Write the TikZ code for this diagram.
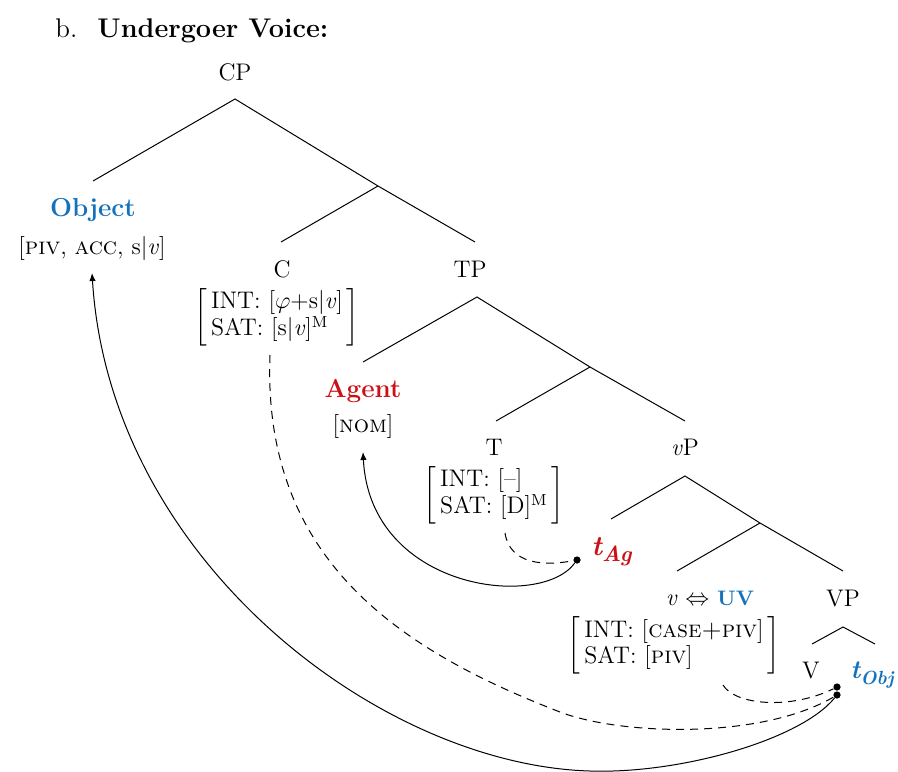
\documentclass[tikz,border=0pt]{standalone}
\usepackage{amsmath}
\usetikzlibrary{arrows.meta}
\definecolor{uvblue}{RGB}{20,114,189}
\definecolor{agred}{RGB}{204,16,22}
% two-row feature matrix in square brackets
\newcommand\featmat[2]{$\left[\begin{tabular}{@{\,}l@{\,}}#1\\#2\end{tabular}\right]$}
% trace symbol: bold italic t with a large lowered index
\newcommand\tracet[2][11]{t\raisebox{-3pt}{\fontsize{#1}{12}\selectfont #2}}
\begin{document}
\begin{tikzpicture}[x=0.5pt,y=-0.5pt,
  every node/.style={inner sep=0pt, font=\fontsize{12}{13}\selectfont},
  lab/.style={anchor=base},
  bigbold/.style={font=\fontsize{13}{14}\selectfont\bfseries},
  tracelab/.style={anchor=base west, font=\fontsize{14}{15}\selectfont\bfseries\itshape},
  branch/.style={line width=0.5pt},
  move/.style={line width=0.5pt, -{Latex[length=4pt,width=3.2pt]}},
  agree/.style={line width=0.5pt, dash pattern=on 4pt off 3pt},
  trace/.style={circle, fill, inner sep=0pt, minimum size=3.6pt},
  feat/.style={anchor=center}]
\useasboundingbox (0,0) rectangle (898,771);

% heading
\node[anchor=base west, font=\fontsize{13.5}{15}\selectfont] (num) at (55,37) {b.};
\node[anchor=base west, font=\fontsize{13.5}{15}\selectfont\bfseries] (title) at (97,37) {Undergoer Voice:};

% labels
\node[lab] (cp) at (235,80) {CP};
\node[lab, bigbold, text=uvblue] (obj) at (93,216) {Object};
\node[lab] (objf) at (92,254) {[\textsc{piv}, \textsc{acc}, s$|$\textit{v}]};
\node[lab] (c) at (282,277) {C};
\node[feat] (cf) at (277,317) {\featmat{INT: [$\varphi$+s$|$\textit{v}]}{SAT: [s$|$\textit{v}]$^{\mathrm{M}}$}};
\node[lab] (tp) at (470,277) {TP};
\node[lab, bigbold, text=agred] (agent) at (363,397) {Agent};
\node[lab] (agentf) at (363,432) {[\textsc{nom}]};
\node[lab] (t) at (494,455) {T};
\node[feat] (tf) at (494,495) {\featmat{INT: [--]}{SAT: [D]$^{\mathrm{M}}$}};
\node[lab] (vp) at (685,455) {\textit{v}P};
\node[tracelab, text=agred] (tag) at (591,555) {\tracet{Ag}};
\node[lab] (v) at (710,605) {\textit{v} $\Leftrightarrow$ \textcolor{uvblue}{\fontsize{10.5}{12}\selectfont\bfseries UV}};
\node[lab] (bigvp) at (843,606) {VP};
\node[feat] (vf) at (674,645) {\featmat{INT: [\textsc{case+piv}]}{SAT: [\textsc{piv}]}};
\node[lab] (verb) at (811,678) {V};
\node[tracelab, text=uvblue, font=\fontsize{13}{14}\selectfont\bfseries\itshape] (tobj) at (850,678) {\tracet[9.5]{Obj}};

% traces
\node[trace] (tagdot) at (577,560) {};
\node[trace] (tobjdota) at (837,687) {};
\node[trace] (tobjdotb) at (837,695) {};

% branching points and branch ends
\coordinate (cp-b) at (235,99);
\coordinate (obj-t) at (93,181);
\coordinate (cbar) at (378,186);
\coordinate (c-t) at (281,242);
\coordinate (tp-t) at (475,242);
\coordinate (tp-b) at (477,297);
\coordinate (ag-t) at (363,362);
\coordinate (tbar) at (590,367);
\coordinate (t-t) at (496,421);
\coordinate (vp-t) at (685,421);
\coordinate (vp-b) at (685,476);
\coordinate (tag-t) at (611,519);
\coordinate (vbar) at (760,523);
\coordinate (v-t) at (677,571);
\coordinate (bigvp-t) at (843,571);
\coordinate (bigvp-b) at (843,627);
\coordinate (verb-t) at (812,644);
\coordinate (tobj-t) at (875,644);

\draw[branch] (obj-t) -- (cp-b) -- (cbar) -- (tp-t);
\draw[branch] (cbar) -- (c-t);
\draw[branch] (ag-t) -- (tp-b) -- (tbar) -- (vp-t);
\draw[branch] (tbar) -- (t-t);
\draw[branch] (tag-t) -- (vp-b) -- (vbar) -- (bigvp-t);
\draw[branch] (vbar) -- (v-t);
\draw[branch] (verb-t) -- (bigvp-b) -- (tobj-t);

% feet of the feature matrices and arrow targets
\coordinate (cf-foot) at (270,355);
\coordinate (tf-foot) at (505,533);
\coordinate (vf-foot) at (723,685);
\coordinate (obj-foot) at (92,273);
\coordinate (agent-foot) at (363,452);

% agreement links
\draw[agree] (tf-foot) .. controls (510,565) and (545,566) .. (tagdot);
\draw[agree] (cf-foot) .. controls (262,560) and (400,650) .. (560,712)
                      .. controls (620,735) and (760,740) .. (tobjdotb);
\draw[agree] (vf-foot) .. controls (735,705) and (790,710) .. (tobjdota);

% movement
\draw[move] (tagdot) .. controls (540,610) and (370,590) .. (agent-foot);
\draw[move] (tobjdotb) .. controls (800,740) and (680,774) .. (590,771)
                       .. controls (380,765) and (110,560) .. (obj-foot);
\end{tikzpicture}
\end{document}
